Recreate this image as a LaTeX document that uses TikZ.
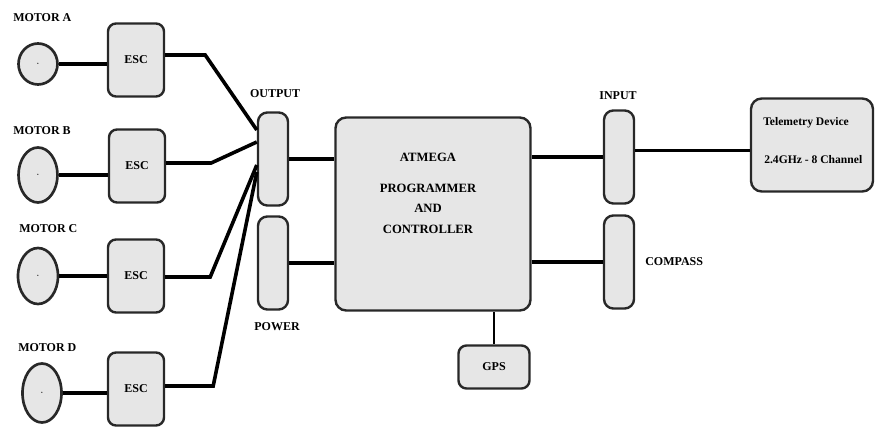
\documentclass[tikz,border=0pt]{standalone}
\usepackage{fontspec}
\setmainfont{Liberation Serif}
\usepackage{tikz}
\usetikzlibrary{shapes.geometric,calc,positioning}
\definecolor{boxfill}{RGB}{230,230,230}
\definecolor{boxline}{RGB}{40,40,40}
\newdimen\pxu \pxu=0.75pt
\tikzset{
  blk/.style={rectangle, rounded corners=6pt, draw=boxline, line width=1.8pt,
              fill=boxfill, inner sep=0pt, font=\rmfamily\fontsize{9}{10}\selectfont\bfseries},
  motor/.style={ellipse, draw=boxline, line width=2pt, fill=boxfill,
                inner sep=0pt, font=\fontsize{8}{9}\selectfont},
  lbl/.style={inner sep=0pt, font=\rmfamily\fontsize{9}{10}\selectfont\bfseries},
  wire/.style={line width=2.7pt, black},
  thinwire/.style={line width=2pt, black},
}

\begin{document}
\begin{tikzpicture}[
  x=0.75pt, y=-0.75pt,
  esc/.style={blk, minimum width=56\pxu, minimum height=73\pxu},
  port/.style={blk, rounded corners=7pt, minimum width=30\pxu, minimum height=93\pxu},
]
  \useasboundingbox (0,0) rectangle (878,427);
  % motors and their labels
  \node[motor, minimum width=39\pxu, minimum height=41\pxu] (ma) at (38,64) {$\cdot$};
  \node[motor, minimum width=39\pxu, minimum height=55\pxu] (mb) at (38,175) {$\cdot$};
  \node[motor, minimum width=40\pxu, minimum height=56\pxu] (mc) at (38,276) {$\cdot$};
  \node[motor, minimum width=39\pxu, minimum height=59\pxu] (md) at (42,393) {$\cdot$};
  \node[lbl, anchor=west] (la) at (13,18) {MOTOR A};
  \node[lbl, anchor=west] (lb) at (13,131) {MOTOR B};
  \node[lbl, anchor=west] (lc) at (19,229) {MOTOR C};
  \node[lbl, anchor=west] (ld) at (18,348) {MOTOR D};
  % speed controllers
  \node[esc] (ea) at (136,60) {ESC};
  \node[esc] (eb) at (137,166) {ESC};
  \node[esc] (ec) at (136,276) {ESC};
  \node[esc] (ed) at (136,389) {ESC};
  % ports round the controller
  \node[port] (out) at (273,159) {};
  \node[port] (pwr) at (273,263) {};
  \node[port] (inp) at (619,157) {};
  \node[port] (cmp) at (619,262) {};
  \node[lbl] (outl) at (275,94) {OUTPUT};
  \node[lbl] (pwrl) at (277,327) {POWER};
  \node[lbl] (inpl) at (618,96) {INPUT};
  \node[lbl, anchor=west] (cmpl) at (645,262) {COMPASS};
  % controller, gps, telemetry
  \node[blk, rounded corners=8pt, minimum width=195\pxu, minimum height=193\pxu] (atm) at (433,214) {};
  \node[lbl, align=center, font=\rmfamily\fontsize{9.5}{15.4}\selectfont\bfseries] (atml) at (428,193)
    {ATMEGA\\[7.8pt] PROGRAMMER\\ AND\\ CONTROLLER};
  \node[blk, minimum width=71\pxu, minimum height=43\pxu] (gps) at (494,367) {GPS};
  \node[blk, rounded corners=8pt, minimum width=122\pxu, minimum height=93\pxu] (tel) at (812,145) {};
  \node[lbl, anchor=west, font=\rmfamily\fontsize{8.7}{10}\selectfont\bfseries] (tell) at (763,123) {Telemetry Device};
  \node[lbl, anchor=west, font=\rmfamily\fontsize{8.7}{10}\selectfont\bfseries] (telc) at (764,160) {2.4GHz - 8 Channel};
  \coordinate (tin) at ([yshift=-4pt]tel.west);
  % connections
  \foreach \m/\e in {ma/ea, mb/eb, mc/ec, md/ed}
    \draw[wire] (\m.east) -- (\m.east -| \e.west);
  \foreach \e/\sy/\dx/\ty in {ea/55/40/130, eb/163/45/142, ec/277/45/165, ed/386/48/172}
    \draw[wire] (\e.east |- 0,\sy) -- ++(\dx,0) -- (out.west |- 0,\ty);
  \foreach \a in {out, pwr}
    \draw[wire] (\a.east) -- (\a.east -| atm.west);
  \foreach \b in {inp, cmp}
    \draw[wire] (\b.west -| atm.east) -- (\b.west);
  \draw[thinwire] (gps.north) -- (gps.north |- atm.south);
  \draw[thinwire] (tin -| inp.east) -- (tin);
\end{tikzpicture}
\end{document}
